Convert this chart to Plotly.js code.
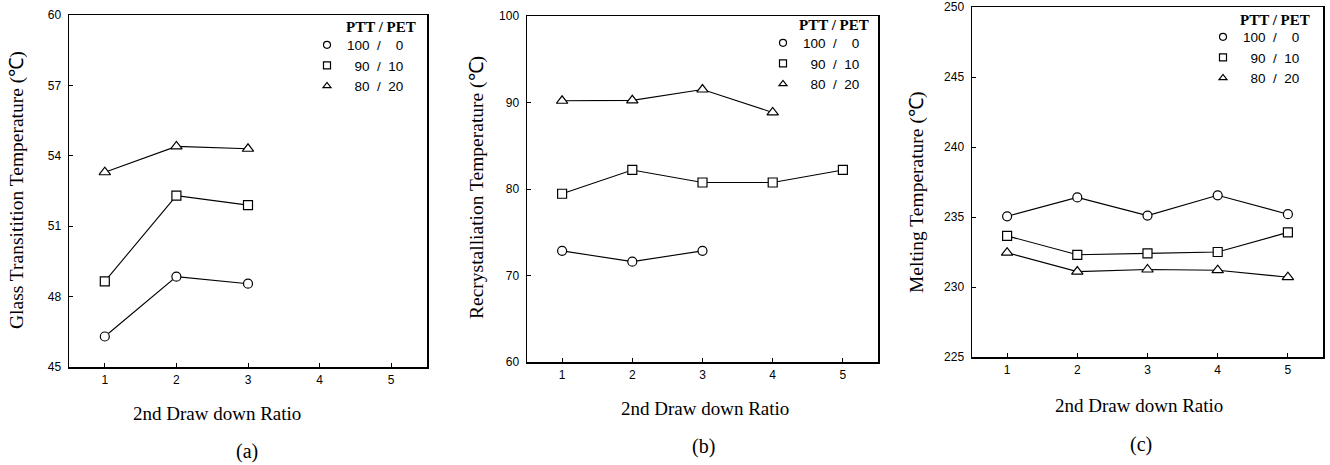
<!DOCTYPE html>
<html>
<head>
<meta charset="utf-8">
<script src="https://cdn.plot.ly/plotly-3.0.1.min.js"></script>
<style>html,body{margin:0;padding:0;background:#fff;}#chart{width:1330px;height:465px;}</style>
</head>
<body>
<div id="chart"></div>
<script>
// ---- data ----
const ratioA = [1, 2, 3];
const tgPTT100 = [46.3, 48.85, 48.55];
const tgPTT90 = [48.65, 52.3, 51.9];
const tgPTT80 = [53.3, 54.4, 54.3];

const ratioB100 = [1, 2, 3];
const ratioB90 = [1, 2, 3, 4, 5];
const ratioB80 = [1, 2, 3, 4];
const tcPTT100 = [72.85, 71.6, 72.85];
const tcPTT90 = [79.45, 82.2, 80.75, 80.75, 82.2];
const tcPTT80 = [90.2, 90.25, 91.5, 88.85];

const ratioC = [1, 2, 3, 4, 5];
const tmPTT100 = [235.05, 236.4, 235.1, 236.55, 235.2];
const tmPTT90 = [233.65, 232.3, 232.4, 232.5, 233.9];
const tmPTT80 = [232.45, 231.1, 231.25, 231.2, 230.7];

const seriesNames = ["100\u2007/\u2007\u20070", "\u200790\u2007/\u200710", "\u200780\u2007/\u200720"];
const xTickVals = [1, 2, 3, 4, 5];
const yTicksA = [45, 48, 51, 54, 57, 60];
const yTicksB = [60, 70, 80, 90, 100];
const yTicksC = [225, 230, 235, 240, 245, 250];
const yTitleA = "Glass Transitition Temperature (\u2103)";
const yTitleB = "Recrystalliation Temperature (\u2103)";
const yTitleC = "Melting Temperature (\u2103)";
const xTitle = "2nd Draw down Ratio";
const legendTitle = "PTT / PET";
const panelLabels = ["(a)", "(b)", "(c)"];

// ---- styling ----
const W = 1330, H = 465;
const px = v => v / W;
const py = v => 1 - v / H;
const symbols = ["circle", "square", "triangle-up"];
const sizes = [9, 9, 10];
const serif = "Liberation Serif, Times New Roman, serif";
const sans = "Liberation Sans, Arial, sans-serif";

function lineTrace(x, y, k, xa, ya) {
  return {
    x: x, y: y, xaxis: xa, yaxis: ya, mode: "lines+markers", showlegend: false,
    line: {color: "#000", width: 1.1},
    marker: {symbol: symbols[k], size: sizes[k], color: "#fff", line: {color: "#000", width: 1.2}},
    hoverinfo: "x+y"
  };
}
function legendTrace(k, xa, ya, lg) {
  return {
    x: [null], y: [null], xaxis: xa, yaxis: ya, mode: "markers", name: seriesNames[k],
    legend: lg, showlegend: true,
    marker: {symbol: symbols[k], size: 7, color: "#fff", line: {color: "#000", width: 1.2}}
  };
}

const traces = [
  lineTrace(ratioA, tgPTT100, 0, "x", "y"),
  lineTrace(ratioA, tgPTT90, 1, "x", "y"),
  lineTrace(ratioA, tgPTT80, 2, "x", "y"),
  lineTrace(ratioB100, tcPTT100, 0, "x2", "y2"),
  lineTrace(ratioB90, tcPTT90, 1, "x2", "y2"),
  lineTrace(ratioB80, tcPTT80, 2, "x2", "y2"),
  lineTrace(ratioC, tmPTT100, 0, "x3", "y3"),
  lineTrace(ratioC, tmPTT90, 1, "x3", "y3"),
  lineTrace(ratioC, tmPTT80, 2, "x3", "y3")
];
[0, 1, 2].forEach(k => traces.push(legendTrace(k, "x", "y", "legend")));
[0, 1, 2].forEach(k => traces.push(legendTrace(k, "x2", "y2", "legend2")));
[0, 1, 2].forEach(k => traces.push(legendTrace(k, "x3", "y3", "legend3")));

function xAxis(d0, d1, anchor) {
  return {
    domain: [px(d0), px(d1)], anchor: anchor, range: [0.5, 5.5],
    tickvals: xTickVals, ticks: "inside", ticklen: 4, tickwidth: 1, tickcolor: "#000",
    showline: true, mirror: true, linecolor: "#000", linewidth: 1.5,
    showgrid: false, zeroline: false, ticklabelstandoff: 1,
    tickfont: {family: sans, size: 12, color: "#000"}
  };
}
function yAxis(top, bottom, range, ticks, anchor) {
  return {
    domain: [py(bottom), py(top)], anchor: anchor, range: range,
    tickvals: ticks, ticks: "inside", ticklen: 4, tickwidth: 1, tickcolor: "#000",
    showline: true, mirror: true, linecolor: "#000", linewidth: 1.5,
    showgrid: false, zeroline: false, ticklabelstandoff: 4,
    tickfont: {family: sans, size: 12, color: "#000"}
  };
}
function legendBox(xl, yt) {
  return {
    x: px(xl), y: py(yt), xanchor: "left", yanchor: "top", bgcolor: "rgba(0,0,0,0)",
    borderwidth: 0, font: {family: "Liberation Sans, Arial, sans-serif", size: 13.5, color: "#000"},
    itemwidth: 30, tracegroupgap: 0
  };
}
function ann(text, x, y, size, angle, bold) {
  return {
    text: bold ? "<b>" + text + "</b>" : text, xref: "paper", yref: "paper", x: px(x), y: py(y),
    xanchor: "center", yanchor: "middle", showarrow: false, textangle: angle || 0,
    font: {family: serif, size: size, color: "#000"}
  };
}

const layout = {
  width: W, height: H, margin: {l: 0, r: 0, t: 0, b: 0},
  paper_bgcolor: "#fff", plot_bgcolor: "#fff", showlegend: true,
  xaxis: xAxis(69, 427, "y"),
  yaxis: yAxis(15, 367, [45, 60], yTicksA, "x"),
  xaxis2: xAxis(527, 878, "y2"),
  yaxis2: yAxis(16, 362, [60, 100], yTicksB, "x2"),
  xaxis3: xAxis(972, 1323, "y3"),
  yaxis3: yAxis(7, 357, [225, 250], yTicksC, "x3"),
  legend: legendBox(307, 29.5),
  legend2: legendBox(763, 27.5),
  legend3: legendBox(1203, 21.5),
  annotations: [
    ann(yTitleA, 17, 190, 19.5, -90),
    ann(yTitleB, 477, 188, 19.5, -90),
    ann(yTitleC, 917, 193, 19.5, -90),
    ann(xTitle, 217, 413, 19),
    ann(xTitle, 705, 408, 19),
    ann(xTitle, 1139, 405, 19),
    ann(panelLabels[0], 247, 451, 20),
    ann(panelLabels[1], 703, 446, 20),
    ann(panelLabels[2], 1141, 444, 20),
    ann(legendTitle, 381, 27, 15, 0, true),
    ann(legendTitle, 834, 25, 15, 0, true),
    ann(legendTitle, 1275, 20, 15, 0, true)
  ]
};

Plotly.newPlot("chart", traces, layout, {displayModeBar: false, staticPlot: true});
</script>
</body>
</html>
